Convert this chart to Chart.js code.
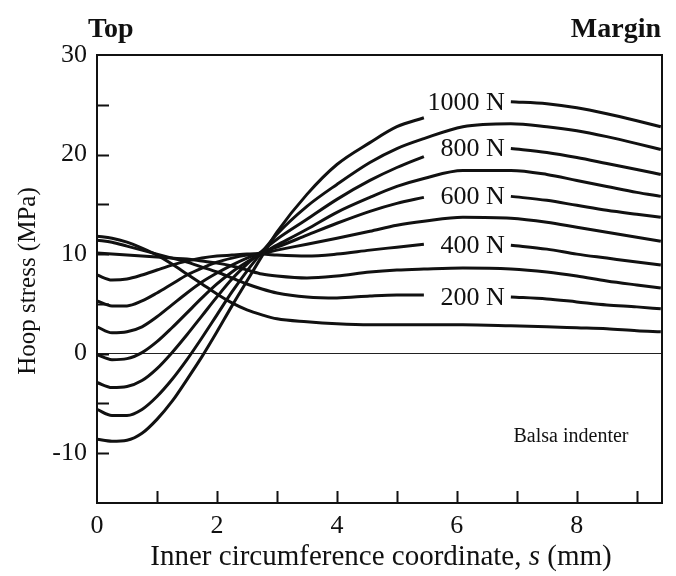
<!DOCTYPE html>
<html>
<head>
<meta charset="utf-8">
<script src="https://cdn.jsdelivr.net/npm/chart.js@4/dist/chart.umd.min.js"></script>
<style>
html,body{margin:0;padding:0;background:#fff;}
#wrap{width:676px;height:576px;}
</style>
</head>
<body>
<div id="wrap"><canvas id="c" width="676" height="576"></canvas></div>
<script>
// Inner circumference coordinate s (mm)
const sCoord = [0, 0.25, 0.5, 0.75, 1, 1.25, 1.5, 1.75, 2, 2.25, 2.5, 2.75, 3, 3.5, 4, 4.55, 5, 5.45, 6.1, 6.9, 7.5, 8, 8.5, 9, 9.4];
// Hoop stress (MPa) per indenter load; null = gap for the in-line label
const load1000 = [-8.6, -8.8, -8.7, -8.0, -6.6, -4.8, -2.6, -0.3, 2.2, 4.8, 7.3, 9.8, 12.2, 16.0, 19.0, 21.2, 22.8, 23.7, null, 25.3, 25.1, 24.7, 24.1, 23.4, 22.8];
const load900  = [-5.6, -6.2, -6.2, -5.6, -4.3, -2.6, -0.6, 1.6, 3.9, 6.2, 8.3, 10.2, 12.0, 14.8, 17.0, 19.2, 20.6, 21.6, 22.8, 23.1, 22.8, 22.4, 21.8, 21.1, 20.5];
const load800  = [-2.9, -3.4, -3.3, -2.7, -1.5, 0.1, 1.9, 3.8, 5.7, 7.5, 9.0, 10.3, 11.5, 13.5, 15.5, 17.4, 18.7, 19.8, null, 20.6, 20.2, 19.7, 19.1, 18.5, 18.0];
const load700  = [-0.1, -0.6, -0.5, 0.1, 1.2, 2.6, 4.1, 5.6, 7.0, 8.2, 9.2, 10.1, 10.9, 12.5, 14.2, 15.7, 16.8, 17.6, 18.4, 18.4, 18.0, 17.4, 16.8, 16.2, 15.8];
const load600  = [2.7, 2.1, 2.2, 2.7, 3.7, 4.9, 6.1, 7.2, 8.1, 8.9, 9.6, 10.2, 10.7, 11.9, 13.1, 14.3, 15.1, 15.7, null, 15.8, 15.4, 14.9, 14.4, 14.0, 13.7];
const load500  = [5.3, 4.8, 4.8, 5.3, 6.1, 7.0, 7.9, 8.6, 9.2, 9.6, 9.9, 10.1, 10.4, 11.0, 11.6, 12.3, 12.9, 13.3, 13.7, 13.6, 13.2, 12.7, 12.2, 11.7, 11.3];
const load400  = [7.9, 7.4, 7.5, 7.9, 8.4, 8.9, 9.3, 9.6, 9.8, 9.9, 10.0, 10.0, 9.9, 9.8, 10.0, 10.4, 10.7, 11.0, null, 10.9, 10.5, 10.0, 9.6, 9.2, 8.9];
const load300  = [10.1, 10.0, 9.9, 9.8, 9.7, 9.6, 9.5, 9.3, 9.1, 8.8, 8.4, 8.0, 7.8, 7.6, 7.8, 8.2, 8.4, 8.5, 8.6, 8.5, 8.2, 7.8, 7.3, 6.9, 6.6];
const load200  = [11.4, 11.2, 10.8, 10.4, 10.0, 9.6, 9.2, 8.7, 8.2, 7.6, 7.0, 6.5, 6.1, 5.7, 5.6, 5.8, 5.9, 5.9, null, 5.7, 5.5, 5.2, 4.9, 4.7, 4.5];
const load100  = [11.8, 11.6, 11.2, 10.6, 9.9, 9.0, 8.0, 7.0, 6.0, 5.1, 4.4, 3.9, 3.5, 3.2, 3.0, 2.9, 2.9, 2.9, 2.9, 2.8, 2.7, 2.6, 2.5, 2.3, 2.2];

const seriesNames = ['1000 N', '900 N', '800 N', '700 N', '600 N', '500 N', '400 N', '300 N', '200 N', '100 N'];
const seriesValues = [load1000, load900, load800, load700, load600, load500, load400, load300, load200, load100];
const labeledSeries = ['1000 N', '800 N', '600 N', '400 N', '200 N'];
const yTickLabels = [30, 20, 10, 0, -10];
const xTickLabels = [0, 2, 4, 6, 8];
const xTitle = ['Inner circumference coordinate, ', 's', ' (mm)'];
const yTitle = 'Hoop stress (MPa)';

const SERIF = '"Liberation Serif", "Times New Roman", serif';

const datasets = seriesValues.map((vals, i) => ({
  label: seriesNames[i],
  data: sCoord.map((s, j) => ({ x: s, y: vals[j] })),
  borderColor: '#111',
  borderWidth: 3,
  pointRadius: 0,
  fill: false,
  spanGaps: false,
  cubicInterpolationMode: 'monotone'
}));

const decor = {
  id: 'decor',
  afterDraw(chart) {
    const { ctx, chartArea: a, scales: { x, y } } = chart;
    ctx.save();
    ctx.strokeStyle = '#111';
    ctx.fillStyle = '#111';
    // frame
    ctx.lineWidth = 2;
    ctx.strokeRect(a.left, a.top, a.right - a.left, a.bottom - a.top);
    // inward ticks
    ctx.beginPath();
    for (let v = -10; v <= 25; v += 5) {
      const py = Math.round(y.getPixelForValue(v)) + 0.5;
      ctx.moveTo(a.left, py); ctx.lineTo(a.left + 12, py);
    }
    for (let v = 1; v <= 9; v++) {
      const px = Math.round(x.getPixelForValue(v)) + 0.5;
      ctx.moveTo(px, a.bottom); ctx.lineTo(px, a.bottom - 12);
    }
    ctx.stroke();
    // in-line load labels
    ctx.font = '26px ' + SERIF;
    ctx.textAlign = 'right';
    ctx.textBaseline = 'middle';
    const idx = sCoord.indexOf(6.9);
    seriesNames.forEach((n, i) => {
      if (!labeledSeries.includes(n)) return;
      const px = x.getPixelForValue(sCoord[idx]) - 6;
      const py = y.getPixelForValue(seriesValues[i][idx]);
      ctx.fillText(n, px, py + 1);
    });
    // Balsa indenter
    ctx.font = '20px ' + SERIF;
    ctx.textAlign = 'center';
    ctx.fillText('Balsa indenter', 571, 437);
    // Top / Margin
    ctx.textBaseline = 'alphabetic';
    ctx.font = 'bold 28px ' + SERIF;
    ctx.textAlign = 'left';
    ctx.fillText('Top', 88, 37);
    ctx.textAlign = 'right';
    ctx.fillText('Margin', 661, 37);
    // x title with italic s
    const nf = '29px ' + SERIF, itf = 'italic 29px ' + SERIF;
    ctx.font = nf; const w0 = ctx.measureText(xTitle[0]).width, w2 = ctx.measureText(xTitle[2]).width;
    ctx.font = itf; const w1 = ctx.measureText(xTitle[1]).width;
    let sx = 381 - (w0 + w1 + w2) / 2;
    ctx.textAlign = 'left';
    ctx.font = nf; ctx.fillText(xTitle[0], sx, 565); sx += w0;
    ctx.font = itf; ctx.fillText(xTitle[1], sx, 565); sx += w1;
    ctx.font = nf; ctx.fillText(xTitle[2], sx, 565);
    // y title
    ctx.translate(28, 281);
    ctx.rotate(-Math.PI / 2);
    ctx.textAlign = 'center';
    ctx.textBaseline = 'middle';
    ctx.font = '25px ' + SERIF;
    ctx.fillText(yTitle, 0, 0);
    ctx.restore();
  }
};

new Chart(document.getElementById('c'), {
  type: 'line',
  data: { datasets },
  options: {
    responsive: false,
    animation: false,
    events: [],
    layout: { padding: { top: 55, right: 14, left: 0, bottom: 0 } },
    plugins: { legend: { display: false }, tooltip: { enabled: false } },
    scales: {
      x: {
        type: 'linear', min: 0, max: 9.42,
        afterFit(s) { s.height = 73; },
        grid: { display: false, drawTicks: false },
        border: { display: true, color: '#111', width: 2 },
        ticks: {
          stepSize: 1, padding: 8, color: '#111', maxRotation: 0, autoSkip: false,
          font: { family: SERIF, size: 26 },
          callback: v => xTickLabels.includes(v) ? String(v) : ''
        }
      },
      y: {
        type: 'linear', min: -15, max: 30,
        afterFit(s) { s.width = 97; },
        grid: {
          drawTicks: false,
          color: c => (c.tick && c.tick.value === 0) ? '#222' : 'rgba(0,0,0,0)',
          lineWidth: 1
        },
        border: { display: true, color: '#111', width: 2 },
        ticks: {
          stepSize: 5, padding: 10, color: '#111', autoSkip: false,
          font: { family: SERIF, size: 26 },
          callback: v => yTickLabels.includes(v) ? String(v) : ''
        }
      }
    }
  },
  plugins: [decor]
});
</script>
</body>
</html>
